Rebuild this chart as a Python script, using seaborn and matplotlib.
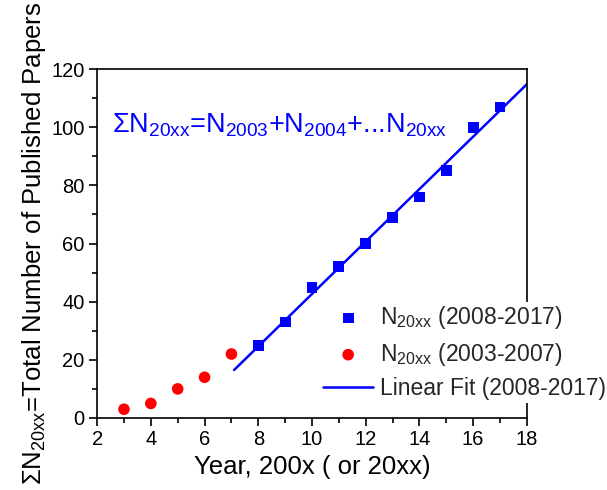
import numpy as np
import pandas as pd
import seaborn as sns
import matplotlib
matplotlib.use("Agg")
import matplotlib.pyplot as plt
from matplotlib.ticker import MultipleLocator

years_recent = [8, 9, 10, 11, 12, 13, 14, 15, 16, 17]
papers_recent = [25, 33, 45, 52, 60, 69, 76, 85, 100, 107]
years_early = [3, 4, 5, 6, 7]
papers_early = [3, 5, 10, 14, 22]

sns.set_theme(style="ticks")
plt.rcParams['font.family'] = ['Liberation Sans', 'DejaVu Sans']
plt.rcParams['mathtext.fontset'] = 'custom'
plt.rcParams['mathtext.rm'] = 'Liberation Sans'
plt.rcParams['mathtext.it'] = 'Liberation Sans:italic'
plt.rcParams['mathtext.bf'] = 'Liberation Sans:bold'

fig = plt.figure(figsize=(6.07, 4.9), dpi=100)
ax = fig.add_axes([0.160, 0.147, 0.708, 0.712])

df_r = pd.DataFrame({"x": years_recent, "y": papers_recent})
df_e = pd.DataFrame({"x": years_early, "y": papers_early})

sub = r"$\mathregular{_{20xx}}$"
sns.scatterplot(data=df_r, x="x", y="y", marker="s", s=60, color="#0000ff",
                edgecolor="none", ax=ax, label="N" + sub + " (2008-2017)", zorder=3)
sns.scatterplot(data=df_e, x="x", y="y", marker="o", s=70, color="#ff0000",
                edgecolor="none", ax=ax, label="N" + sub + " (2003-2007)", zorder=3)

slope, intercept = np.polyfit(years_recent, papers_recent, 1)
fx = np.linspace(7.1, 18, 50)
fit_df = pd.DataFrame({"x": fx, "y": slope * fx + intercept})
sns.lineplot(data=fit_df, x="x", y="y", color="#0000ff", lw=1.8, ax=ax,
             label="Linear Fit (2008-2017)", zorder=2)

ax.set_xlim(2, 18)
ax.set_ylim(0, 120)
ax.xaxis.set_major_locator(MultipleLocator(2))
ax.xaxis.set_minor_locator(MultipleLocator(1))
ax.yaxis.set_major_locator(MultipleLocator(20))
ax.yaxis.set_minor_locator(MultipleLocator(10))
ax.tick_params(which="major", direction="out", length=6, width=1.2, labelsize=14.5, color="black", labelcolor="black", pad=3)
ax.tick_params(which="minor", direction="out", length=3.5, width=1.2, color="black")
ax.tick_params(top=False, right=False, which="both")
for sp in ax.spines.values():
    sp.set_linewidth(1.2)
    sp.set_color("black")

ax.set_xlabel("Year, 200x ( or 20xx)", fontsize=18.5, color="black", labelpad=4)
ax.set_ylabel(r"$\mathregular{\Sigma}$N" + sub + "=Total Number of Published Papers",
              fontsize=18.5, color="black", labelpad=2)

ax.text(2.56, 98.3, r"$\mathregular{\Sigma}$N$\mathregular{_{20xx}}$=N$\mathregular{_{2003}}$+N$\mathregular{_{2004}}$+...N$\mathregular{_{20xx}}$",
        fontsize=19.5, color="#0000ff", va="baseline", ha="left")

leg = ax.legend(loc="lower right", bbox_to_anchor=(1.19, 0.044), frameon=True,
                fontsize=16.5, handlelength=2.2, handletextpad=0.3, labelspacing=0.42,
                borderaxespad=0.0, borderpad=0.1)
leg.get_frame().set_facecolor("white")
leg.get_frame().set_edgecolor("none")
leg.get_frame().set_alpha(1)

fig.savefig("out.png", dpi=100, facecolor="white")
